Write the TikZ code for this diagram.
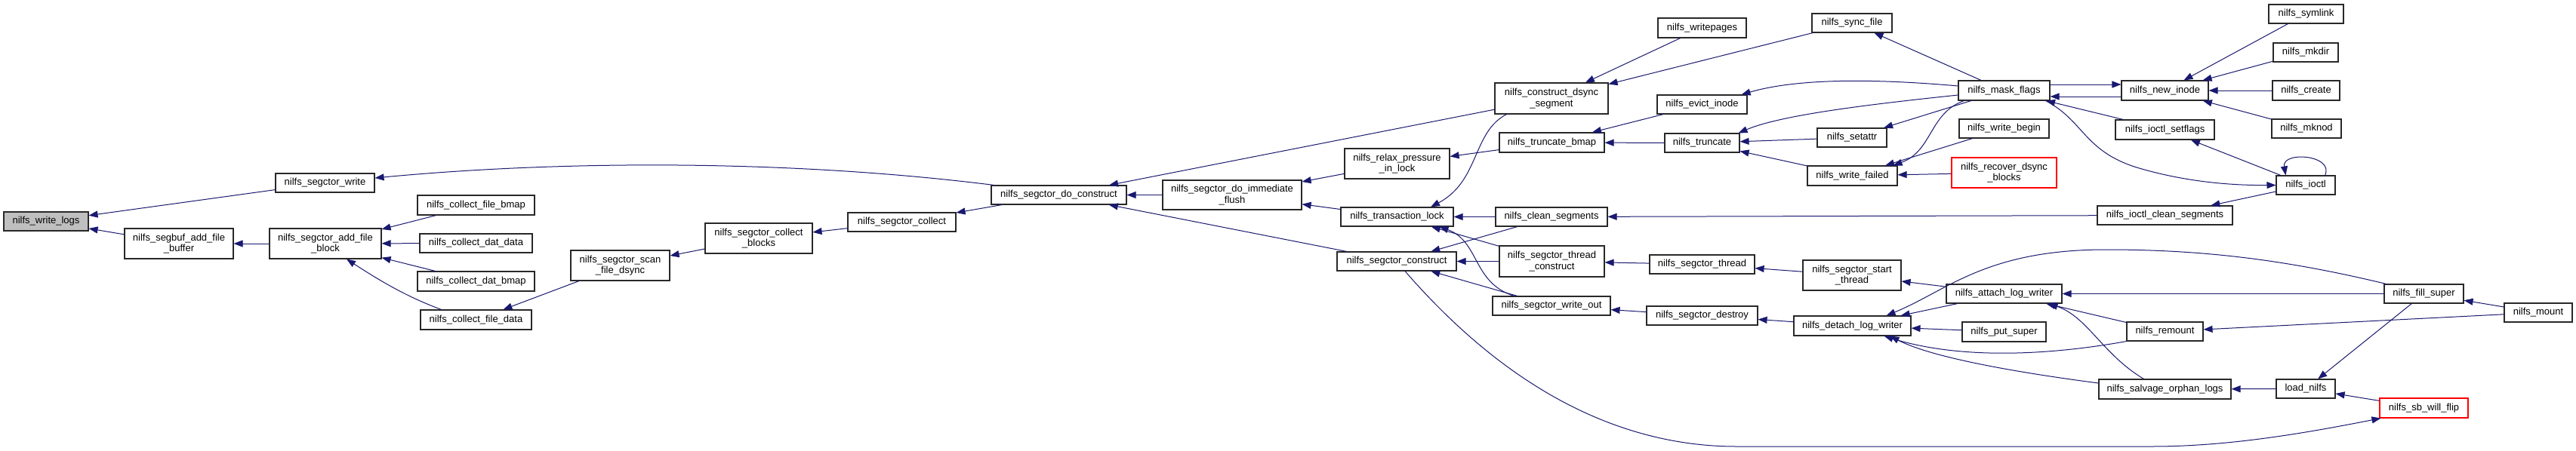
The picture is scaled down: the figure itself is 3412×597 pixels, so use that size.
\documentclass[tikz,border=0pt]{standalone}
\usepackage{fontspec}
\setmainfont{Liberation Sans}
\usetikzlibrary{arrows.meta,calc}
\definecolor{edgec}{RGB}{25,25,112}
\definecolor{startgray}{RGB}{191,191,191}
\definecolor{boxline}{RGB}{40,40,40}
\newcommand\mknode[7][box]{%
  \pgfmathsetmacro\nodeX{(#3+#5)/2}\pgfmathsetmacro\nodeY{(#4+#6)/2}%
  \pgfmathsetmacro\nodeW{#5-#3}\pgfmathsetmacro\nodeH{#6-#4}%
  \node[#1, minimum width=\nodeW pt, minimum height=\nodeH pt] (#2) at (\nodeX,\nodeY) {#7};}
\begin{document}
\begin{tikzpicture}[x=1pt,y=-1pt,
  box/.style={draw=boxline, line width=1.1pt, fill=white, inner sep=0pt, align=center,
    font=\fontsize{13}{14.5}\selectfont},
  redbox/.style={box, draw=red},
  startbox/.style={box, fill=startgray},
  e/.style={draw=edgec, line width=1pt, -{Triangle[length=12pt,width=9pt]}}]
\useasboundingbox (0,0) rectangle (3412,597);
\fill[white] (0,0) rectangle (3412,597);
% nodes
\mknode[startbox]{wlogs}{5}{281}{117}{306}{nilfs\_write\_logs}
\mknode{swrite}{365}{230}{496}{255}{nilfs\_segctor\_write}
\mknode{sbuf}{165}{303}{309}{343}{nilfs\_segbuf\_add\_file\\\_buffer}
\mknode{addblk}{357}{303}{505}{343}{nilfs\_segctor\_add\_file\\\_block}
\mknode{cfbmap}{553}{259}{708}{285}{nilfs\_collect\_file\_bmap}
\mknode{cddata}{556}{310}{705}{335}{nilfs\_collect\_dat\_data}
\mknode{cdbmap}{553}{360}{708}{386}{nilfs\_collect\_dat\_bmap}
\mknode{cfdata}{557}{411}{704}{437}{nilfs\_collect\_file\_data}
\mknode{scan}{756}{332}{887}{372}{nilfs\_segctor\_scan\\\_file\_dsync}
\mknode{cblocks}{934}{296}{1076}{336}{nilfs\_segctor\_collect\\\_blocks}
\mknode{scollect}{1123}{282}{1266}{307}{nilfs\_segctor\_collect}
\mknode{docon}{1313}{246}{1492}{271}{nilfs\_segctor\_do\_construct}
\mknode{flush}{1540}{239}{1724}{278}{nilfs\_segctor\_do\_immediate\\\_flush}
\mknode{relax}{1781}{197}{1920}{237}{nilfs\_relax\_pressure\\\_in\_lock}
\mknode{tlock}{1776}{275}{1925}{300}{nilfs\_transaction\_lock}
\mknode{sconstr}{1771}{334}{1929}{359}{nilfs\_segctor\_construct}
\mknode{dsync}{1980}{110}{2130}{151}{nilfs\_construct\_dsync\\\_segment}
\mknode{tbmap}{1986}{176}{2125}{202}{nilfs\_truncate\_bmap}
\mknode{csegs}{1981}{275}{2129}{300}{nilfs\_clean\_segments}
\mknode{tconstr}{1986}{326}{2125}{367}{nilfs\_segctor\_thread\\\_construct}
\mknode{wout}{1977}{393}{2133}{418}{nilfs\_segctor\_write\_out}
\mknode{wpages}{2196}{24}{2313}{50}{nilfs\_writepages}
\mknode{evict}{2195}{126}{2314}{151}{nilfs\_evict\_inode}
\mknode{trunc}{2205}{177}{2304}{202}{nilfs\_truncate}
\mknode{sthread}{2185}{338}{2324}{363}{nilfs\_segctor\_thread}
\mknode{destroy}{2181}{406}{2328}{431}{nilfs\_segctor\_destroy}
\mknode{sync}{2400}{18}{2506}{43}{nilfs\_sync\_file}
\mknode{setattr}{2407}{170}{2499}{195}{nilfs\_setattr}
\mknode{wfailed}{2394}{220}{2513}{246}{nilfs\_write\_failed}
\mknode{start}{2388}{345}{2518}{385}{nilfs\_segctor\_start\\\_thread}
\mknode{detach}{2376}{419}{2531}{445}{nilfs\_detach\_log\_writer}
\mknode{mflags}{2594}{107}{2715}{133}{nilfs\_mask\_flags}
\mknode{wbegin}{2595}{158}{2714}{183}{nilfs\_write\_begin}
\mknode[redbox]{recover}{2585}{209}{2724}{249}{nilfs\_recover\_dsync\\\_blocks}
\mknode{attach}{2578}{377}{2731}{402}{nilfs\_attach\_log\_writer}
\mknode{putsuper}{2599}{427}{2710}{453}{nilfs\_put\_super}
\mknode{newinode}{2810}{107}{2925}{133}{nilfs\_new\_inode}
\mknode{setflags}{2802}{159}{2933}{185}{nilfs\_ioctl\_setflags}
\mknode{iclean}{2778}{273}{2957}{298}{nilfs\_ioctl\_clean\_segments}
\mknode{remount}{2817}{427}{2918}{452}{nilfs\_remount}
\mknode{salvage}{2780}{503}{2955}{529}{nilfs\_salvage\_orphan\_logs}
\mknode{symlink}{3005}{6}{3104}{31}{nilfs\_symlink}
\mknode{mkdir}{3011}{57}{3097}{82}{nilfs\_mkdir}
\mknode{create}{3010}{107}{3099}{133}{nilfs\_create}
\mknode{mknod}{3009}{158}{3101}{183}{nilfs\_mknod}
\mknode{ioctl}{3015}{233}{3093}{258}{nilfs\_ioctl}
\mknode{load}{3015}{503}{3093}{528}{load\_nilfs}
\mknode{fsuper}{3158}{377}{3263}{402}{nilfs\_fill\_super}
\mknode[redbox]{sbflip}{3152}{528}{3269}{554}{nilfs\_sb\_will\_flip}
\mknode{mount}{3317}{402}{3407}{427}{nilfs\_mount}
% edges
\draw[e] (swrite) -- (wlogs);
\draw[e] (sbuf) -- (wlogs);
\draw[e] (addblk) -- (sbuf);
\draw[e] (cfbmap) -- (addblk);
\draw[e] (cddata) -- (addblk);
\draw[e] (cdbmap) -- (addblk);
\draw[e] ([xshift=28pt]cfdata.north west) .. controls (535,392) and (500,370) .. ([xshift=28pt]addblk.south);
\draw[e] (scan) -- (cfdata);
\draw[e] (cblocks) -- (scan);
\draw[e] (scollect) -- (cblocks);
\draw[e] (docon) -- (scollect);
\draw[e] ([xshift=4pt]docon.north west) .. controls (1050,212) and (750,212) .. ([yshift=6.5pt]swrite.east);
\draw[e] (flush) -- (docon);
\draw[e] (dsync) -- (docon);
\draw[e] (sconstr) -- (docon);
\draw[e] (wpages) -- (dsync);
\draw[e] (sync) -- (dsync);
\draw[e] (mflags) -- (sync);
\draw[e] (relax) -- (flush);
\draw[e] (tlock) -- (flush);
\draw[e] (tbmap) -- (relax);
\draw[e] ([xshift=16pt]dsync.south west) .. controls (1950,175) and (1960,240) .. ([xshift=44.5pt]tlock.north);
\draw[e] (csegs) -- (tlock);
\draw[e] (evict) -- (tbmap);
\draw[e] (trunc) -- (tbmap);
\draw[e] ([yshift=6pt]mflags.west) .. controls (2480,104) and (2380,104) .. ([xshift=-8pt]evict.north east);
\draw[e] ([yshift=-6pt]mflags.west) .. controls (2480,138) and (2360,152) .. ([xshift=-2pt]trunc.north east);
\draw[e] (setattr) -- (trunc);
\draw[e] (wfailed) -- (trunc);
\draw[e] (mflags) -- (setattr);
\draw[e] ([xshift=8pt]mflags.south west) .. controls (2555,150) and (2560,200) .. ([xshift=-6pt]wfailed.north east);
\draw[e] (wbegin) -- (wfailed);
\draw[e] (recover) -- (wfailed);
\draw[e] ([yshift=8pt]mflags.east) -- ([yshift=8pt]newinode.west);
\draw[e] ([yshift=-8pt]newinode.west) -- ([yshift=-8pt]mflags.east);
\draw[e] (setflags) -- (mflags);
\draw[e] ([xshift=-6pt]mflags.south east) .. controls (2760,160) and (2760,200) .. (2830,222) .. controls (2890,240) and (2950,246) .. (ioctl.west);
\draw[e] (ioctl) -- (setflags);
\draw[e] (ioctl) -- (iclean);
\draw[e] ([xshift=-14pt]ioctl.north east) .. controls (3092,205) and (3022,200) .. ([xshift=13pt]ioctl.north west);
\draw[e] (iclean) -- (csegs);
\draw[e] (symlink) -- (newinode);
\draw[e] (mkdir) -- (newinode);
\draw[e] (create) -- (newinode);
\draw[e] (mknod) -- (newinode);
\draw[e] (tconstr) -- (sconstr);
\draw[e] (csegs) -- (sconstr);
\draw[e] (tconstr) -- (tlock);
\draw[e] ([xshift=29pt]wout.north west) .. controls (1950,375) and (1960,320) .. ([xshift=-19pt]tlock.south east);
\draw[e] (wout) -- (sconstr);
\draw[e] ([xshift=11pt]sconstr.south) .. controls (2000,520) and (2150,592) .. (2300,592) -- (2850,592) .. controls (2950,592) and (3050,575) .. ([xshift=2pt]sbflip.south west);
\draw[e] (sthread) -- (tconstr);
\draw[e] (start) -- (sthread);
\draw[e] (destroy) -- (wout);
\draw[e] (detach) -- (destroy);
\draw[e] (attach) -- (start);
\draw[e] (attach) -- (detach);
\draw[e] (putsuper) -- (detach);
\draw[e] ([xshift=3pt]fsuper.north west) .. controls (3030,345) and (2920,331) .. (2790,331) .. controls (2630,331) and (2580,385) .. ([xshift=-33pt]detach.north east);
\draw[e] (fsuper) -- (attach);
\draw[e] (remount.south west) .. controls (2720,470) and (2600,478) .. ([xshift=-36pt]detach.south east);
\draw[e] ([yshift=8pt]salvage.west) .. controls (2680,495) and (2560,475) .. ([xshift=-28pt]detach.south east);
\draw[e] (remount) -- (attach);
\draw[e] ([xshift=60pt]salvage.north west) .. controls (2785,470) and (2765,420) .. ([xshift=-18pt]attach.south east);
\draw[e] (mount) -- (fsuper);
\draw[e] (mount) -- (remount);
\draw[e] (fsuper) -- (load);
\draw[e] (load) -- (salvage);
\draw[e] (sbflip) -- (load);
\end{tikzpicture}
\end{document}
